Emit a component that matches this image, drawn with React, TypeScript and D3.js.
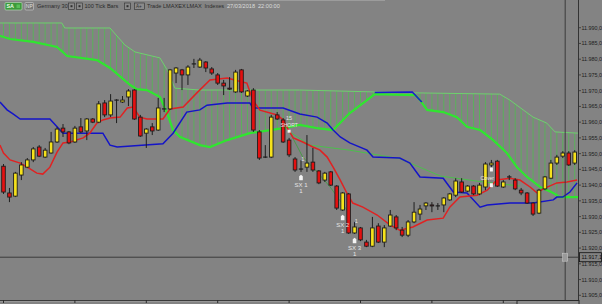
import React from "react";
import * as d3 from "d3";

const W = 602;
const H = 304;

const OPEN = [11946,11937.5,11936.5,11943.2,11945.7,11948,11952.1,11948.9,11950.2,11953.7,
11958.1,11956.9,11953.7,11958.5,11957.2,11961,11960,11966.1,11962.3,11967,
11966.4,11968,11970.2,11961.6,11956.5,11958.5,11957.5,11964.2,11964.2,11975.6,
11976.6,11975,11978.5,11977.5,11979.1,11976.9,11975,11972.4,11970.8,11969.6,
11976.6,11968.3,11970.2,11956.9,11948.9,11948.9,11962.3,11960.7,11954.3,11948.3,
11945.1,11945.7,11947.3,11944.5,11941.6,11944.2,11939.7,11932.1,11937.2,11924.8,
11926.4,11921.9,11920.6,11927,11921.9,11927,11929.9,11925.7,11924.1,11928.3,
11930.8,11933.4,11933.7,11933.4,11933.7,11935.3,11936.8,11941,11938.1,11939.7,
11937.2,11939.4,11946.4,11947.6,11939.4,11942.6,11941.6,11938.4,11937.5,11934.3,
11931.1,11938.8,11942.2,11947,11949.2,11950.2,11947];

const HIGH = [11946.7,11939.1,11944.2,11947.3,11948.6,11952.1,11952.7,11951.8,11956.9,11958.5,
11959.4,11957.2,11958.8,11961.3,11961.3,11961.3,11966.7,11967,11968.9,11967.3,
11968.3,11970.5,11970.5,11962.3,11958.1,11959.7,11967.7,11967.7,11976.9,11977.5,
11976.9,11978.1,11980.1,11980.4,11979.4,11977.5,11975.6,11973.4,11974.3,11976.6,
11976.9,11970.2,11970.8,11957.5,11952.7,11962.3,11963.2,11961.3,11955,11948.9,
11947.9,11955.9,11951.8,11944.8,11944.2,11944.5,11940,11937.8,11937.5,11928.3,
11926.7,11922.6,11929.9,11927.9,11927.3,11932.1,11930.5,11926.7,11928.9,11934.6,
11933.7,11934.6,11934.6,11934.3,11936.2,11937.5,11942.2,11942.2,11940,11940,
11940.7,11947.3,11948,11948,11941.6,11943.2,11942.2,11939.1,11937.8,11934.6,
11938.8,11942.9,11948,11949.6,11950.8,11950.8,11951.1];

const LOW = [11937.2,11934.6,11936.2,11941.6,11945.4,11947.3,11948.9,11948.6,11950,11953.4,
11955.3,11953,11953.4,11956.5,11954.3,11959.7,11959.7,11961.6,11961.6,11959.7,
11966.1,11965.1,11960.7,11955.3,11951.8,11955.9,11957.2,11963.2,11963.9,11972.4,
11970.2,11971.8,11977.2,11977.2,11975.9,11975,11971.8,11968.6,11970.2,11969.3,
11969.3,11968,11956.9,11948,11948.6,11948.6,11960.7,11953.4,11948.9,11944.2,
11944.2,11944.2,11944.2,11940.3,11941,11939.7,11932.1,11931.8,11924.5,11924.5,
11922.2,11920.3,11920.3,11921.6,11920.3,11926.7,11925.7,11923.5,11923.5,11927.9,
11928.9,11932.1,11931.4,11932.1,11931.4,11935,11936.2,11937.5,11937.8,11936.8,
11936.8,11938.4,11945.7,11939.4,11939.1,11941.6,11938.4,11936.8,11934,11930.2,
11930.8,11938.4,11941.9,11946.4,11948.6,11946.1,11946.4];

const CLOSE = [11937.8,11936.2,11943.8,11946.4,11948,11951.5,11949.2,11951.1,11953.7,11957.8,
11956.9,11953.4,11958.1,11956.9,11961,11960,11965.8,11962.3,11966.7,11967,
11967,11969.9,11961,11955.6,11957.8,11957.2,11964.5,11964.2,11976.6,11977.2,
11975,11977.5,11978.5,11979.7,11977.2,11975.6,11972.4,11971.5,11970.5,11975.9,
11969.6,11969.9,11957.5,11948.6,11948.9,11961.6,11961,11953.7,11949.6,11944.8,
11945.1,11947,11944.8,11940.7,11943.8,11940,11932.7,11937.5,11924.8,11926.7,
11922.6,11920.6,11926.4,11921.9,11926.4,11930.5,11926.4,11924.1,11928.3,11931.4,
11932.4,11934.3,11933.4,11933.4,11935.9,11937.2,11941.3,11937.8,11939.7,11937.2,
11940,11946.7,11947,11939.7,11941,11942.6,11938.8,11937.5,11934.3,11930.8,
11938.4,11942.6,11947,11948.9,11950.2,11946.4,11950.5];

// Indicator lines: [bar index, price]
const TENKAN: [number, number][] = [
  [-0.6,11952.7],[0,11950.2],[1.1,11948],[2.8,11947],[4,11945.7],[5.6,11943.8],[6.6,11943.5],
  [7.8,11945.7],[9,11950.5],[10,11953.4],[11.2,11953.7],[13.4,11955],[14.5,11956.5],[15.7,11959.7],
  [16.7,11960.7],[17.9,11961.3],[19.6,11961.6],[20.8,11964.5],[21.8,11964.8],[22.9,11961.6],
  [24.1,11961],[26.8,11961],[28,11964.2],[30.2,11964.8],[32.5,11969.3],[34.7,11973.4],
  [37.6,11974],[40.3,11972.7],[40.9,11972.4],[41.9,11967],[43.1,11963.8],[46,11962.3],
  [47,11960.7],[47.6,11958.5],[48.7,11955],[50.3,11953.7],[52,11952.1],[53.2,11951.1],
  [54.4,11948.9],[55.4,11945.7],[56.6,11941.6],[57.7,11937.5],[58.7,11934.3],[60.4,11933],
  [62.8,11930.5],[65,11927.3],[66.6,11925.7],[68.8,11926.7],[71.2,11928.9],[73.9,11929.5],
  [75,11933],[76.7,11936.2],[79.6,11936.8],[81.3,11938.4],[82.9,11941.6],[85.1,11942.2],
  [86.8,11941.6],[88.5,11939.4],[89.7,11937.5],[90.7,11938.8],[93,11940.7],[94.7,11941],[96.4,11941.6]
];

const KIJUN: [number, number][] = [
  [-0.6,11966.4],[0.6,11963.9],[1.6,11962.6],[2.8,11961],[7.8,11961],[10,11956.5],[16.7,11956.5],
  [17.9,11952.7],[19.1,11952.1],[26.8,11953.1],[28.5,11956.5],[30.8,11963.2],[33,11963.9],
  [34.2,11965.4],[37.6,11966.1],[41.4,11966.1],[41.9,11964.5],[47,11964.5],[49.8,11962.6],
  [52.7,11961.6],[54.4,11959.7],[55.4,11957.5],[56.6,11955.3],[58.2,11953.4],[61.1,11951.1],
  [62.1,11948.9],[66.6,11948.6],[68.3,11947],[70,11942.6],[73.9,11942.2],[75.6,11937.8],
  [77.9,11937.5],[80.1,11933],[81.3,11933.7],[85.1,11934.3],[89,11934.3],[92.4,11935.3],
  [93,11936.2],[94,11936.2],[95.2,11937.8],[96.4,11940.7]
];

const SPAN_B_BLUE: [number, number][] = [[62.4,11969.4],[68.7,11969.6],[70.3,11966.4]];

const SPAN_B: [number, number][] = [
  [-0.6,11991.5],[9.8,11991.5],[10.3,11989.9],[17.9,11989.9],[20.4,11984.5],[22.1,11982.3],
  [26.3,11980.4],[27.5,11976.6],[28.8,11970.8],[33,11970.2],[49.8,11970.2],[62.4,11969.6],
  [69.2,11969.3],[83.4,11968.9],[85.1,11967],[89,11961.6],[91.3,11959.7],[92.7,11956.9],[96.6,11956.5]
];

const SPAN_A: [number, number][] = [
  [-0.6,11987.4],[1.1,11986.4],[5,11985.5],[9,11983.9],[10.7,11981],[15.7,11979.7],[17.9,11977.2],
  [21.3,11971.8],[22.4,11970.5],[24.1,11970.2],[26.3,11968],[27.5,11962.9],[28.5,11957.5],
  [29.7,11955.3],[33,11952.7],[34.7,11952.1],[37.6,11954.3],[41.4,11956.5],[47,11958.1],
  [49.8,11959.1],[52.7,11958.1],[55.4,11957.5],[58.2,11962.9],[61.1,11967],[62.4,11968.9],
  [69.2,11968.6],[70,11967],[71.2,11963.9],[73.9,11963.2],[76.2,11961.6],[77.9,11958.5],
  [80.1,11957.5],[82.3,11954.3],[84.6,11950.2],[86.3,11945.7],[88,11942.6],[90.2,11939.4],
  [92.4,11937.5],[93.5,11936.2],[96.6,11936.2]
];

const CHIKOU: [number, number][] = [
  [47.6,11957.5],[51.5,11952.7],[58.2,11951.1],[66.6,11948.4],[73.4,11942.9],[80.6,11941],[86.8,11939.7]
];

const TREND: [number, number][] = [
  [48.2,11956.5],[50.3,11948.9],[52.7,11944.2],[54.9,11939.4],[57.7,11932.1]
];

const PRICE_TICKS = d3.range(11905, 11991, 5);
const TIME_TICKS = [0, 12, 24, 36, 48, 60, 72, 84];

const SIGNAL_LABELS = ["SX 1", "SX 2", "SX 3"];
const SIGNAL_BARS = [50, 57, 59];
const SIGNAL_PRICES = [11942.2, 11929.5, 11922.2];
const QTY_BARS = [50.3, 59.3];
const QTY_PRICES = [11947.6, 11928.0];

const CROSS_PRICE = 11917.1;
const CROSS_BAR = 94.4;

const xs = d3.scaleLinear().domain([0, 96]).range([3.5, 574.7]);
const ys = d3.scaleLinear().domain([11905, 11990]).range([295.3, 27.7]);

const loc = d3.formatLocale({ decimal: ",", thousands: ".", grouping: [3], currency: ["", ""] });
const fmt = loc.format(",.1f");

const line = d3.line<[number, number]>().x((d) => xs(d[0])).y((d) => ys(d[1]));

const interp = (pts: [number, number][]) =>
  d3.scaleLinear().domain(pts.map((d) => d[0])).range(pts.map((d) => d[1])).clamp(true);

const FONT = "'Liberation Sans', Arial, sans-serif";
const BG = "#838383";
const AXIS_X = 578.5;

export default function App() {
  const upper = interp(SPAN_B);
  const lower = interp(SPAN_A);
  const hatchIdx = d3.range(0, 97);
  const bodyW = 3.6;

  return (
    <div style={{ position: "fixed", left: 0, top: 0 }}>
      <svg width={W} height={H} style={{ display: "block", background: BG }}>
        <rect x={0} y={0} width={W} height={H} fill={BG} />
        <rect x={0} y={0} width={385} height={1} fill="#9c9c9c" />

        {/* cloud hatch */}
        <g stroke="#55b855" strokeWidth={1} opacity={0.85}>
          {hatchIdx.map((i) => (
            <line key={i} x1={xs(i)} x2={xs(i)} y1={ys(upper(i))} y2={ys(lower(i))} />
          ))}
        </g>
        <path d={line(SPAN_B) || ""} fill="none" stroke="#6fd06f" strokeWidth={1} />
        <path d={line(SPAN_A) || ""} fill="none" stroke="#2fe62f" strokeWidth={2.2} />
        <path d={line(SPAN_B_BLUE) || ""} fill="none" stroke="#1a1ad0" strokeWidth={1.5} />
        <path d={line(CHIKOU) || ""} fill="none" stroke="#4cbf4c" strokeWidth={1} />
        <path d={line(TREND) || ""} fill="none" stroke="#3a9f3a" strokeWidth={0.8} />
        <path d={line(KIJUN) || ""} fill="none" stroke="#1414c8" strokeWidth={1.5} />
        <path d={line(TENKAN) || ""} fill="none" stroke="#e02222" strokeWidth={1.5} />

        {/* candles */}
        <g>
          {OPEN.map((o, i) => {
            const c = CLOSE[i];
            const x = xs(i);
            const top = ys(Math.max(o, c));
            const bot = ys(Math.min(o, c));
            const up = c > o;
            return (
              <g key={i}>
                <line x1={x} x2={x} y1={ys(HIGH[i])} y2={ys(LOW[i])} stroke="#1e1e1e" strokeWidth={1} />
                {o === c ? (
                  <line x1={x - 2.2} x2={x + 2.2} y1={top} y2={top} stroke="#1e1e1e" strokeWidth={1.2} />
                ) : (
                  <rect
                    x={x - bodyW / 2}
                    y={top}
                    width={bodyW}
                    height={Math.max(1, bot - top)}
                    fill={up ? "#f6e21c" : "#e41010"}
                    stroke="#1e1e1e"
                    strokeWidth={0.9}
                  />
                )}
              </g>
            );
          })}
        </g>

        {/* signal annotations */}
        <g fontFamily={FONT} fontSize={6} fill="#e6e6e6" textAnchor="middle">
          {SIGNAL_LABELS.map((s, k) => {
            const x = xs(SIGNAL_BARS[k]);
            const y = ys(SIGNAL_PRICES[k]);
            return (
              <g key={s}>
                <path d={`M${x - 1.8},${y - 2} L${x},${y - 3.5} L${x + 1.8},${y - 2} L${x + 1.8},${y + 2} L${x - 1.8},${y + 2} Z`} fill="#f4f4f4" />
                <text x={x} y={y + 9}>{s}</text>
                <text x={x} y={y + 15}>1</text>
              </g>
            );
          })}
          {QTY_BARS.map((b, k) => (
            <text key={k} x={xs(b)} y={ys(QTY_PRICES[k])} fontSize={5.5}>1</text>
          ))}
          <text x={xs(48)} y={ys(11960.6)} fontSize={5.5}>15</text>
          <text x={xs(48)} y={ys(11958.6)} fontSize={5}>SHORT</text>
          <path d={`M${xs(48) - 1.5},${ys(11957.6)} h3 v3 h-3 Z`} fill="#f0f0f0" />
          <path d={`M${xs(82) - 1.5},${ys(11945.6)} h3 v4 h-3 Z`} fill="#f4f4f4" />
          <text x={xs(81.3)} y={ys(11941.6)} fontSize={5}>Cover</text>
          <path d={`M${xs(82) - 1.5},${ys(11940.6)} h3 v4 h-3 Z`} fill="#f4f4f4" />
        </g>

        {/* crosshair */}
        <line x1={0} x2={AXIS_X} y1={ys(CROSS_PRICE)} y2={ys(CROSS_PRICE)} stroke="#3c3c3c" strokeWidth={1} />
        <line x1={xs(CROSS_BAR)} x2={xs(CROSS_BAR)} y1={0} y2={300} stroke="#3c3c3c" strokeWidth={1} />
        <rect x={xs(CROSS_BAR) - 2.5} y={ys(CROSS_PRICE) - 4} width={5} height={8} fill="#9a9a9a" stroke="#c8c8c8" strokeWidth={0.6} />

        {/* right axis */}
        <line x1={AXIS_X} x2={AXIS_X} y1={0} y2={H} stroke="#333" strokeWidth={1} />
        <g fontFamily={FONT} fontSize={5.4} fill="#202020">
          {PRICE_TICKS.map((p) => (
            <g key={p}>
              <line x1={AXIS_X} x2={AXIS_X + 2.5} y1={ys(p)} y2={ys(p)} stroke="#333" strokeWidth={0.8} />
              <text x={581.5} y={ys(p) + 2}>{fmt(p)}</text>
            </g>
          ))}
        </g>
        <rect x={579.5} y={ys(CROSS_PRICE) - 4.5} width={22} height={9} fill={BG} stroke="#111" strokeWidth={0.8} />
        <text x={581.5} y={ys(CROSS_PRICE) + 2} fontFamily={FONT} fontSize={5.4} fill="#101010">{fmt(CROSS_PRICE)}</text>

        {/* bottom time axis */}
        <line x1={0} x2={517} y1={300.5} y2={300.5} stroke="#3a3a3a" strokeWidth={1} />
        <line x1={0} x2={517} y1={301.5} y2={301.5} stroke="#969696" strokeWidth={1} />
        {TIME_TICKS.map((t) => (
          <line key={t} x1={xs(t)} x2={xs(t)} y1={300} y2={303} stroke="#2a2a2a" strokeWidth={1} />
        ))}
        <rect x={517} y={300.5} width={62} height={5} fill="#8a8a8a" stroke="#2a2a2a" strokeWidth={1} />

        {/* header */}
        <g fontFamily={FONT} fontSize={5.6}>
          <rect x={5} y={2.5} width={17} height={7.5} rx={1} fill="#3c9a3c" stroke="#bfe0bf" strokeWidth={0.6} />
          <text x={6.5} y={8.4} fill="#eaffea" fontSize={5.4} fontWeight="bold">SA</text>
          <rect x={16.5} y={4.5} width={3.5} height={3.5} fill="#59c059" />
          <rect x={25} y={2.5} width={8.5} height={7.5} rx={1} fill="#777" stroke="#d0d0d0" strokeWidth={0.6} />
          <text x={25.8} y={8.3} fill="#e0e0e0" fontSize={5}>NP</text>
          <text x={37} y={8.4} fill="#2b2b2b">Germany 30</text>
          <rect x={68.5} y={3} width={6} height={6.5} fill="#8a8a8a" stroke="#303030" strokeWidth={0.6} />
          <rect x={70.5} y={5.2} width={2} height={2} fill="#303030" />
          <rect x={76.5} y={3} width={6} height={6.5} fill="#8a8a8a" stroke="#303030" strokeWidth={0.6} />
          <rect x={78.5} y={5.2} width={2} height={2} fill="#303030" />
          <text x={84.5} y={8.4} fill="#2b2b2b">100 Tick Bars</text>
          <rect x={124.5} y={3} width={6} height={6.5} fill="#8a8a8a" stroke="#303030" strokeWidth={0.6} />
          <rect x={126.5} y={5.2} width={2} height={2} fill="#303030" />
          <rect x={134.5} y={3} width={10} height={6.5} fill="#8a8a8a" stroke="#303030" strokeWidth={0.6} />
          <text x={136} y={8.1} fill="#303030" fontSize={4.6}>A+</text>
          <text x={147} y={8.4} fill="#2b2b2b">Trade</text>
          <text x={163} y={8.4} fill="#2b2b2b">LMAXEX</text>
          <text x={186.5} y={8.4} fill="#2b2b2b">LMAX</text>
          <text x={204.5} y={8.4} fill="#2b2b2b">Indexes</text>
          <text x={227} y={8.4} fill="#dcdcdc">27/03/2018</text>
          <text x={258} y={8.4} fill="#dcdcdc">22:00:00</text>
        </g>
      </svg>
    </div>
  );
}
